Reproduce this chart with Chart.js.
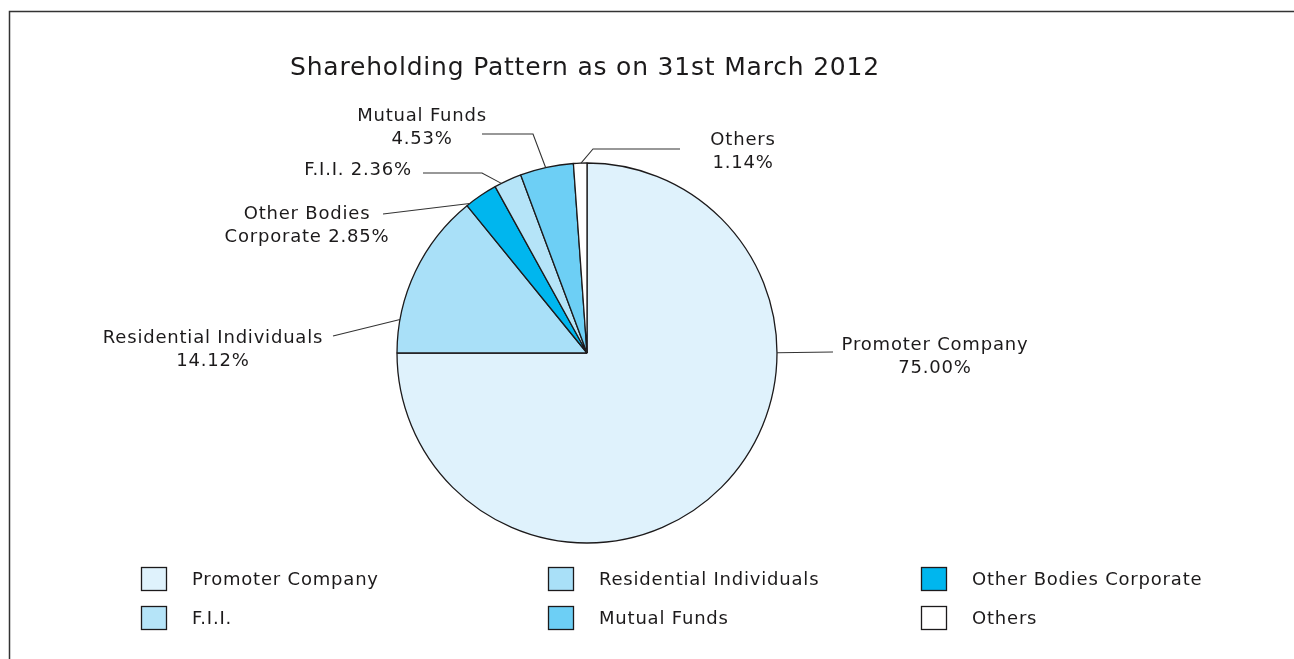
<!DOCTYPE html>
<html>
<head>
<meta charset="utf-8">
<script src="https://cdn.jsdelivr.net/npm/chart.js@4.4.0/dist/chart.umd.min.js"></script>
<style>
    html, body { margin: 0; padding: 0; background: #fff; }
    #pieChart { display: block; }
</style>
</head>
<body>
<canvas id="pieChart" width="1294" height="659"></canvas>
<script>
// data
const title = "Shareholding Pattern as on 31st March 2012";
const labels = ["Promoter Company", "Residential Individuals", "Other Bodies Corporate", "F.I.I.", "Mutual Funds", "Others"];
const shares = [75.00, 14.12, 2.85, 2.36, 4.53, 1.14];
const colours = ["#dff2fc", "#a9e0f8", "#00b6ee", "#b5e4f8", "#6dcff5", "#ffffff"];

const ink = "#1c1a1b";
const font = "'DejaVu Sans', sans-serif";

// callout layout for every slice: where on the slice edge the leader starts,
// the bends of the leader, and where the text sits
const callouts = [
    {at: 0.333, path: [[833, 352]], x: 935, y: 345, align: 'center',
        lines: (l, v) => [l, v + '%']},
    {at: 0.2, path: [[333, 336]], x: 213, y: 338, align: 'center',
        lines: (l, v) => [l, v + '%']},
    {at: 0.1, path: [[383, 214]], x: 307, y: 214, align: 'center',
        lines: (l, v) => ['Other Bodies', 'Corporate ' + v + '%']},
    {at: 0.25, path: [[482, 173], [423, 173]], x: 412, y: 170, align: 'right',
        lines: (l, v) => [l + ' ' + v + '%']},
    {at: 0.48, path: [[533, 134], [482, 134]], x: 422, y: 116, align: 'center',
        lines: (l, v) => [l, v + '%']},
    {at: 0.56, path: [[593, 149], [680, 149]], x: 743, y: 140, align: 'center',
        lines: (l, v) => [l, v + '%']}
];

const legendCols = [141, 548, 921];
const legendRows = [579, 618];

const decor = {
    id: 'decor',
    afterDraw(chart) {
        const ctx = chart.ctx;
        const meta = chart.getDatasetMeta(0);
        ctx.save();

        // frame (top and left edges only)
        ctx.strokeStyle = '#333';
        ctx.lineWidth = 1.5;
        ctx.beginPath();
        ctx.moveTo(9.5, 659);
        ctx.lineTo(9.5, 11.5);
        ctx.lineTo(1294, 11.5);
        ctx.stroke();

        // title
        ctx.fillStyle = ink;
        ctx.textBaseline = 'middle';
        ctx.textAlign = 'center';
        ctx.font = '25px ' + font;
        ctx.letterSpacing = '0.8px';
        ctx.fillText(title, 585, 68);

        // callouts
        ctx.font = '18px ' + font;
        ctx.letterSpacing = '0.8px';
        ctx.lineWidth = 1.1;
        ctx.strokeStyle = '#333';
        callouts.forEach((c, i) => {
            const arc = meta.data[i];
            const a = arc.startAngle + (arc.endAngle - arc.startAngle) * c.at;
            const r = arc.outerRadius;
            ctx.beginPath();
            ctx.moveTo(arc.x + Math.cos(a) * r, arc.y + Math.sin(a) * r);
            c.path.forEach(p => ctx.lineTo(p[0], p[1]));
            ctx.stroke();

            ctx.textAlign = c.align;
            c.lines(labels[i], shares[i].toFixed(2)).forEach((t, k) => {
                ctx.fillText(t, c.x, c.y + k * 23);
            });
        });

        // legend, 3 columns x 2 rows
        ctx.textAlign = 'left';
        labels.forEach((l, i) => {
            const x = legendCols[i % 3];
            const y = legendRows[Math.floor(i / 3)];
            ctx.fillStyle = colours[i];
            ctx.fillRect(x, y - 12, 26, 24);
            ctx.strokeStyle = ink;
            ctx.lineWidth = 1.3;
            ctx.strokeRect(x + 0.5, y - 11.5, 25, 23);
            ctx.fillStyle = ink;
            ctx.fillText(l, x + 51, y + 1);
        });

        ctx.restore();
    }
};

const pieChart = document.getElementById("pieChart").getContext('2d');

new Chart(pieChart, {
    type: 'pie',
    data: {
        labels: labels,
        datasets: [{
            data: shares,
            backgroundColor: colours,
            borderColor: ink,
            borderWidth: 1.3,
            radius: 190
        }]
    },
    options: {
        responsive: false,
        animation: false,
        layout: {
            padding: {left: 397, right: 517, top: 163, bottom: 116}
        },
        plugins: {
            legend: {display: false},
            tooltip: {enabled: false},
            title: {display: false}
        }
    },
    plugins: [decor]
});
</script>
</body>
</html>
